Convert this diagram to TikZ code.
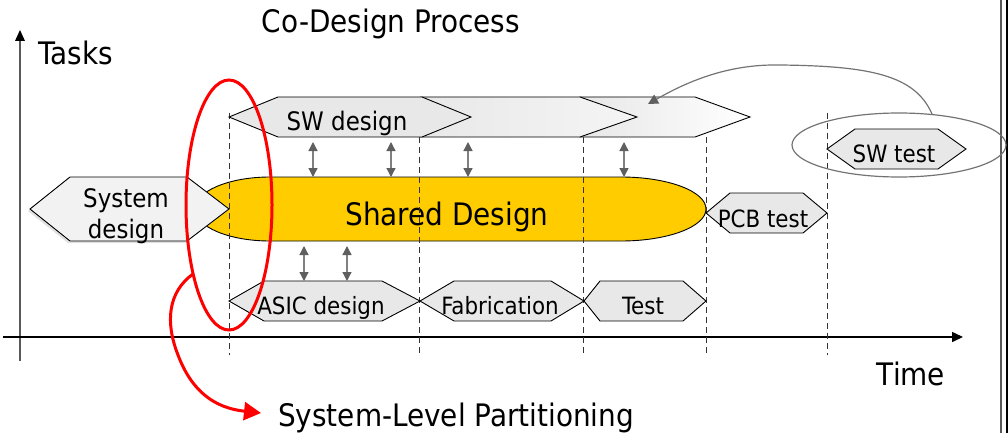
\documentclass[tikz,border=0pt]{standalone}
\usepackage{fontspec}
\setmainfont{DejaVu Sans Condensed}
\usetikzlibrary{arrows.meta}

\definecolor{sharedyellow}{HTML}{FFCC00}
\definecolor{barfill}{HTML}{E8E8E8}
\definecolor{sysfill}{HTML}{F2F2F2}
\definecolor{linkgray}{HTML}{808080}
\definecolor{tipgray}{HTML}{5F5F5F}

% hexagonal task bar: [style]{left tip}{left corner}{right corner}{right tip}{top}{bottom}
\newcommand\hexbar[7][]{%
  \draw[taskbar,#1] (#2,{(#6+#7)/2}) -- (#3,#6) -- (#4,#6) -- (#5,{(#6+#7)/2})
    -- (#4,#7) -- (#3,#7) -- cycle;}

\begin{document}
\begin{tikzpicture}[x=1pt,y=-1pt,
  taskbar/.style={draw=black, line width=0.9pt, fill=barfill},
  label/.style={font=\fontsize{23.8}{24}\selectfont, inner sep=0pt, anchor=base},
  midlabel/.style={font=\fontsize{25.5}{26}\selectfont, inner sep=0pt, anchor=base},
  biglabel/.style={font=\fontsize{31}{31}\selectfont, inner sep=0pt, anchor=base},
  guide/.style={draw=black!80, line width=1pt, dash pattern=on 6pt off 4pt},
  link/.style={draw=linkgray, line width=1.3pt,
    {Triangle[length=9pt,width=9pt,color=tipgray]}-{Triangle[length=9pt,width=9pt,color=tipgray]}},
  focus/.style={draw=red, line width=3pt},
]
\useasboundingbox (0,0) rectangle (1008,433);

% frame lines on the right edge
\draw[black!65, line width=1.5pt] (1001,0) -- (1001,433);
\draw[black, line width=2pt] (1007,0) -- (1007,433);

% axes
\draw[black!65, line width=2pt] (20,361) -- (20,40);
\fill[black] (20,30) -- (15,41) -- (25,41) -- cycle;
\draw[black, line width=1.5pt, -{Triangle[length=11pt,width=10pt]}] (3,337) -- (963,337);

\node[biglabel] (title) at (391,33) {Co-Design Process};
\node[biglabel] (tasks) at (76,65) {Tasks};
\node[biglabel] (time) at (911,385) {Time};

% shared design bar
\draw[fill=sharedyellow, draw=black, line width=0.9pt]
  (270,177) -- (621,177) arc[start angle=-90, end angle=90, x radius=85, y radius=32]
  -- (270,241) arc[start angle=90, end angle=270, x radius=75, y radius=32] -- cycle;
\node[biglabel] (shared) at (447,225) {Shared Design};

% phase boundaries
\draw[guide] (229,113) -- (229,355);
\draw[guide] (419,137) -- (419,355);
\draw[guide] (583,137) -- (583,355);
\draw[guide] (706,137) -- (706,355);
\draw[guide] (827,113) -- (827,355);

% software row
\hexbar[left color=black!12, right color=white]{532}{580}{695}{750}{97}{137}
\hexbar[left color=black!10, right color=white!96!black]{372}{421}{580}{637}{97}{137}
\hexbar{229}{278}{422}{471}{97}{137}
\node[midlabel] (swd) at (347,130) {SW design};

% system design
\hexbar[fill=black!12, draw=none]{28}{68}{185}{227}{179}{243}
\hexbar[fill=sysfill]{30}{70}{187}{229}{177}{241}
\node[midlabel] (sysd) at (126,207) {System};
\node[midlabel] (sysd2) at (126,238) {design};

% hardware row
\hexbar{229}{264}{382}{420}{281}{321}
\hexbar{420}{454}{551}{584}{281}{321}
\hexbar{584}{600}{683}{706}{281}{321}
\node[label] (asic) at (321,314) {ASIC design};
\node[label] (fab) at (500,314) {Fabrication};
\node[label] (test) at (643,314) {Test};

% board and software tests
\hexbar{706}{730}{803}{827}{193}{233}
\node[label] (pcb) at (763,227) {PCB test};
\hexbar{827}{855}{938}{966}{129}{169}
\node[label] (swt) at (894,162) {SW test};

% interactions between the rows and the shared design
\foreach \x/\n in {313/a,391/b,468/c,624/d}{
  \coordinate (up\n) at (\x,142);
  \coordinate (dn\n) at (\x,177);
  \draw[link] (up\n) -- (dn\n);
}
\foreach \x/\n in {304/e,347/f}{
  \coordinate (up\n) at (\x,246);
  \coordinate (dn\n) at (\x,281);
  \draw[link] (up\n) -- (dn\n);
}

% software test grouping and its link back to the software row
\draw[black!55, line width=1.2pt] (899,145) ellipse[x radius=107, y radius=32];
\coordinate (swtop) at (932,114);
\coordinate (fadetip) at (648,104);
\draw[black!55, line width=1.2pt, -{Triangle[length=10pt,width=10pt,color=tipgray]}]
  (swtop) .. controls (915,75) and (870,66) .. (780,65)
          .. controls (730,64) and (690,80) .. (fadetip);

% system-level partitioning
\draw[focus] (229,205) ellipse[x radius=43, y radius=125];
\coordinate (redstart) at (193,274);
\coordinate (redend) at (261,413);
\draw[focus, -{Triangle[length=17pt,width=18pt]}]
  (redstart) .. controls (168,292) and (165,322) .. (178,355)
             .. controls (192,392) and (215,408) .. (redend);
\node[biglabel] (slp) at (456,426) {System-Level Partitioning};
\end{tikzpicture}
\end{document}
